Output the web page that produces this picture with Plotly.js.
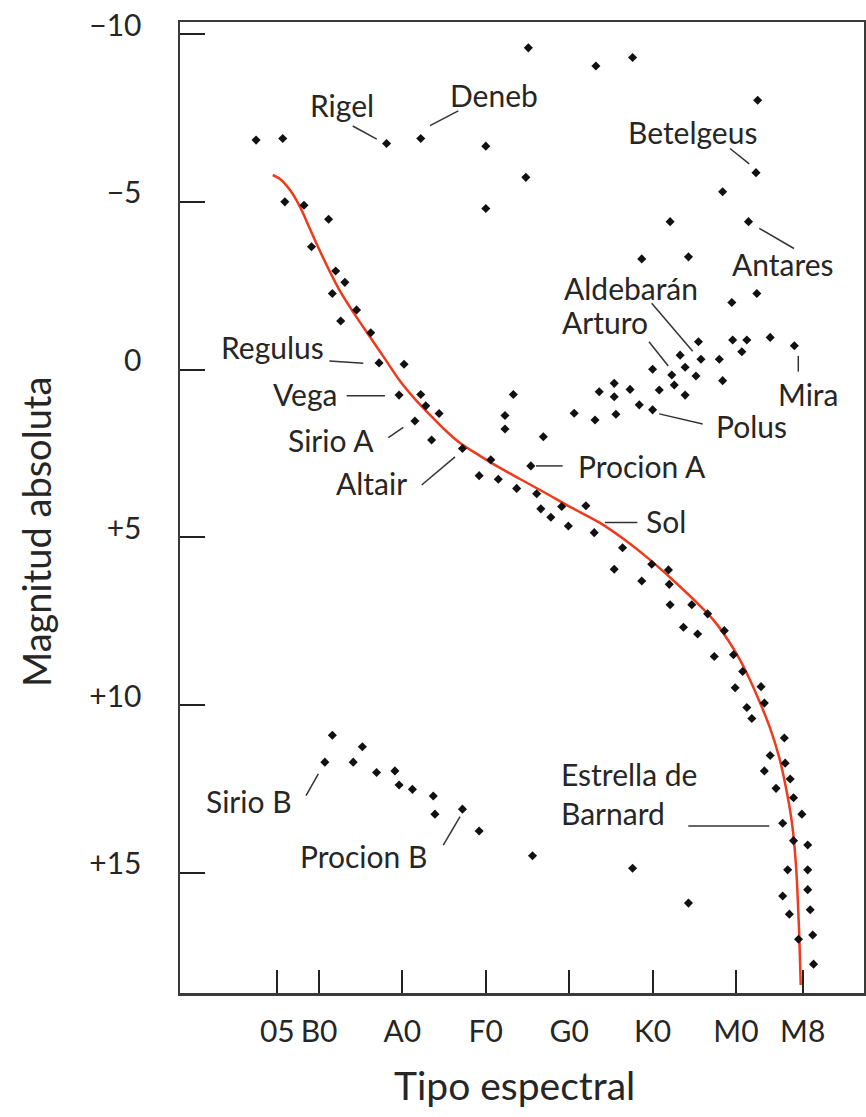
<!DOCTYPE html>
<html>
<head>
<meta charset="utf-8">
<script src="https://cdn.plot.ly/plotly-3.0.1.min.js"></script>
<style>html,body{margin:0;padding:0;background:#fff;}#chart{width:866px;height:1117px;}</style>
</head>
<body>
<div id="chart"></div>
<script>
// Spectral type positions: O5=-5, B0=0, A0=10, F0=20, G0=30, K0=40, M0=50, M8=58
const tickVals = [-5, 0, 10, 20, 30, 40, 50, 58];
const tickText = ['05', 'B0', 'A0', 'F0', 'G0', 'K0', 'M0', 'M8'];
const magTickVals = [-10, -5, 0, 5, 10, 15];
const magTickText = ['\u221210', '\u22125', '0', '+5', '+10', '+15'];

// Supergiants and bright giants
const superX = [-7.55, -4.35, 8.1, 12.2, 20.0, 20.0, 25.1, 33.2, 37.6, 52.6, 52.4, 24.8, 48.4, 42.1, 51.5, 38.7, 44.3, 49.5, 52.5];
const superY = [-6.84, -6.89, -6.74, -6.89, -6.66, -4.8, -9.59, -9.05, -9.3, -8.03, -5.87, -5.73, -5.3, -4.41, -4.41, -3.3, -3.36, -2.0, -2.27];

// Main sequence stars
const mainX = [-4.1, -1.8, 1.15, -0.9, 2.0, 3.1, 1.6, 4.5, 2.6, 6.2, 7.2, 10.2, 9.6, 12.2, 12.8, 14.4, 11.5, 13.5, 17.2, 20.6, 19.2, 21.5, 23.7, 26.1, 26.6, 27.8, 29.1, 32.0, 29.9, 33.0, 36.4, 35.4, 39.9, 41.9, 38.7, 42.0, 42.1, 44.7, 46.6, 43.7, 45.4, 48.6, 47.4, 49.7, 50.8, 49.9, 53.0, 51.3, 53.4, 51.9, 55.8, 54.1, 55.9, 53.4, 56.5, 54.8, 56.9, 57.9, 55.6, 56.9, 58.6, 56.2, 58.6, 58.6, 55.6, 58.9, 56.4, 59.2, 57.5, 59.3];
const mainY = [-5.0, -4.9, -4.48, -3.66, -2.94, -2.6, -2.27, -1.78, -1.45, -1.1, -0.2, -0.16, 0.76, 0.74, 1.08, 1.31, 1.53, 2.1, 2.35, 2.69, 3.16, 3.27, 3.54, 3.7, 4.15, 4.4, 4.08, 4.06, 4.66, 4.86, 5.31, 5.95, 5.8, 5.97, 6.3, 6.4, 7.01, 7.01, 7.28, 7.68, 7.88, 7.78, 8.55, 8.5, 9.0, 9.48, 9.45, 10.07, 9.94, 10.4, 10.98, 11.5, 11.73, 11.96, 12.2, 12.48, 12.76, 13.25, 13.52, 14.04, 14.17, 14.91, 14.91, 15.5, 15.69, 16.1, 16.23, 16.85, 16.98, 17.72];

// Giants
const giantX = [22.3, 22.3, 23.3, 26.9, 25.4, 45.5, 49.6, 51.3, 50.7, 54.1, 57.0, 43.3, 45.8, 48.0, 40.0, 43.9, 42.3, 45.2, 48.4, 35.4, 33.6, 37.3, 35.4, 40.8, 42.6, 43.9, 30.6, 33.1, 35.6, 38.4, 40.0];
const giantY = [1.37, 1.77, 0.74, 2.0, 2.87, -0.83, -0.88, -0.88, -0.53, -0.96, -0.71, -0.43, -0.31, -0.31, -0.01, -0.07, 0.16, 0.19, 0.33, 0.41, 0.66, 0.59, 0.81, 0.61, 0.46, 0.76, 1.3, 1.5, 1.33, 1.05, 1.2];

// White dwarfs
const dwarfX = [1.6, 0.7, 5.2, 4.1, 6.9, 9.1, 9.6, 11.2, 13.7, 13.9, 17.2, 19.2];
const dwarfY = [10.9, 11.7, 11.24, 11.7, 12.01, 11.96, 12.38, 12.51, 12.71, 13.25, 13.1, 13.75];

// Isolated faint stars
const otherX = [25.6, 37.6, 44.3];
const otherY = [14.49, 14.86, 15.9];

// Main sequence curve
const curveX = [-5.55, -4.68, -3.48, -2.28, -1.08, 0.12, 1.32, 2.52, 4.32, 6.12, 7.91, 9.71, 11.51, 13.31, 15.11, 16.91, 19.30, 21.70, 24.10, 27.10, 30.10, 33.69, 36.69, 39.69, 42.69, 45.68, 47.48, 49.04, 50.48, 51.68, 52.88, 54.08, 55.16, 56.00, 56.71, 57.19, 57.55, 57.76];
const curveY = [-5.80, -5.68, -5.35, -4.85, -4.19, -3.53, -2.91, -2.34, -1.63, -0.97, -0.32, 0.34, 0.88, 1.35, 1.80, 2.19, 2.57, 2.93, 3.26, 3.67, 4.09, 4.57, 5.08, 5.67, 6.33, 7.04, 7.52, 8.06, 8.65, 9.25, 9.93, 10.68, 11.54, 12.47, 13.51, 14.76, 16.64, 18.34];

// Star name labels
const starNames = ['Rigel', 'Deneb', 'Betelgeus', 'Antares', 'Aldebarán', 'Arturo', 'Mira', 'Polus', 'Procion A', 'Sol', 'Regulus', 'Vega', 'Sirio A', 'Altair', 'Sirio B', 'Procion B', 'Estrella de<br>Barnard'];

const FONT = 'Lato, "Open Sans", sans-serif';
const TXT = '#262626';
const AX = '#3a3a3a';

const labelPos = [
  [2.72, -7.88, 'center'], [20.98, -8.18, 'center'], [44.84, -7.08, 'center'], [55.64, -3.14, 'center'],
  [37.41, -2.43, 'center'], [34.35, -1.42, 'center'], [58.63, 0.73, 'center'], [51.8, 1.68, 'center'],
  [38.67, 2.87, 'center'], [41.6, 4.51, 'center'], [-5.58, -0.67, 'center'], [-1.68, 0.73, 'center'],
  [1.38, 2.1, 'center'], [6.24, 3.38, 'center'], [-8.39, 12.86, 'center'], [5.28, 14.5, 'center'],
  [28.8, 12.63, 'left']
];
const leaderPos = [
  [4.04, -7.26, 6.92, -6.87], [13.31, -7.27, 16.70, -7.71], [49.28, -6.59, 51.59, -6.13], [52.79, -4.21, 56.95, -3.61],
  [39.89, -1.98, 44.81, -0.55], [39.57, -0.83, 41.88, -0.11], [57.47, -0.41, 57.47, 0.06], [40.80, 1.32, 46.01, 1.62],
  [26.02, 2.87, 29.22, 2.87], [34.29, 4.56, 38.17, 4.56], [1.24, -0.26, 5.31, -0.19], [3.32, 0.78, 7.91, 0.78],
  [8.31, 2.03, 10.11, 1.72], [12.31, 3.44, 16.31, 2.60], [-1.56, 12.70, -0.08, 12.05], [14.90, 14.17, 16.91, 13.32],
  [44.28, 13.60, 53.99, 13.60]
];

const marker = {symbol: 'diamond', size: 7, color: '#111'};
const dotTrace = (x, y, name) => ({x: x, y: y, name: name, type: 'scatter', mode: 'markers', marker: marker, hoverinfo: 'x+y'});

const traces = [
  {x: curveX, y: curveY, type: 'scatter', mode: 'lines', line: {color: '#f03a1c', width: 2.5, shape: 'spline', smoothing: 1.0}, hoverinfo: 'skip'},
  dotTrace(superX, superY, 'supergigantes'),
  dotTrace(mainX, mainY, 'secuencia principal'),
  dotTrace(giantX, giantY, 'gigantes'),
  dotTrace(dwarfX, dwarfY, 'enanas blancas'),
  dotTrace(otherX, otherY, 'otras')
];

const annotations = starNames.map((t, i) => ({
  x: labelPos[i][0], y: labelPos[i][1], xref: 'x', yref: 'y', text: t, showarrow: false,
  xanchor: labelPos[i][2], align: labelPos[i][2], font: {family: FONT, size: 30, color: TXT}
}));
// Axis titles placed as in the reference
annotations.push({
  xref: 'paper', yref: 'paper', x: (514 - 180) / 684, y: -(1085 - 993) / 971,
  text: 'Tipo espectral', showarrow: false, xanchor: 'center', yanchor: 'middle',
  font: {family: FONT, size: 39, color: TXT}
});
annotations.push({
  xref: 'paper', yref: 'paper', x: -(180 - 36) / 684, y: (993 - 532) / 971,
  text: 'Magnitud absoluta', showarrow: false, textangle: -90, xanchor: 'center', yanchor: 'middle',
  font: {family: FONT, size: 38, color: TXT}
});

const shapes = leaderPos.map(p => ({
  type: 'line', xref: 'x', yref: 'y', x0: p[0], y0: p[1], x1: p[2], y1: p[3],
  line: {color: '#333', width: 1.5}
}));

const layout = {
  width: 866, height: 1117,
  margin: {l: 180, r: 2, t: 22, b: 124, pad: 0},
  paper_bgcolor: '#fff', plot_bgcolor: '#fff',
  showlegend: false,
  font: {family: FONT, color: TXT},
  xaxis: {
    range: [-16.67, 65.35], showgrid: false, zeroline: false,
    tickmode: 'array', tickvals: tickVals, ticktext: tickText, tickangle: 0,
    ticks: 'inside', ticklen: 23, tickwidth: 2, tickcolor: '#222',
    showline: true, linecolor: AX, linewidth: 2.5, mirror: true,
    tickfont: {family: FONT, size: 30, color: TXT}, ticklabelstandoff: 10
  },
  yaxis: {
    range: [18.58, -10.36], showgrid: false, zeroline: false,
    tickmode: 'array', tickvals: magTickVals, ticktext: magTickText,
    ticks: 'inside', ticklen: 25, tickwidth: 2, tickcolor: '#222',
    showline: true, linecolor: AX, linewidth: 2.5, mirror: true,
    tickfont: {family: FONT, size: 30, color: TXT}, ticklabelstandoff: 30, ticklabelshift: 9
  },
  annotations: annotations,
  shapes: shapes
};

Plotly.newPlot('chart', traces, layout, {displayModeBar: false, staticPlot: true});
</script>
</body>
</html>
